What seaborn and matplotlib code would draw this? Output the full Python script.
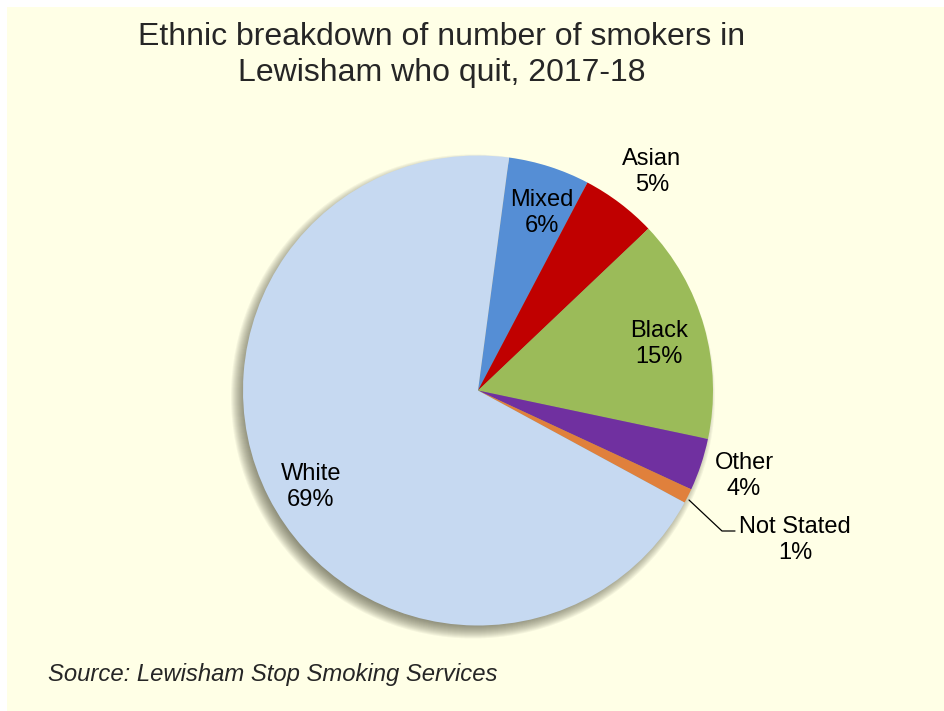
import matplotlib
matplotlib.use("Agg")
import matplotlib.pyplot as plt
import seaborn as sns
from matplotlib.patches import Rectangle, Circle

categories = ["Mixed", "Asian", "Black", "Other", "Not Stated", "White"]
shares = [5.6, 5.2, 15.4, 3.6, 1.0, 69.2]
colors = ["#558ED5", "#C00000", "#9BBB59", "#7030A0", "#E0803C", "#C6D9F1"]
title = "Ethnic breakdown of number of smokers in\nLewisham who quit, 2017-18"
source = "Source: Lewisham Stop Smoking Services"

sns.set_theme(style="white")
plt.rcParams['font.family'] = ['Liberation Sans', 'DejaVu Sans']

W, H = 944, 711
fig = plt.figure(figsize=(W / 100, H / 100), dpi=100, facecolor="white")
fig.patches.append(Rectangle((7 / W, 0), 1 - 7 / W, 1 - 7 / H, transform=fig.transFigure,
                             facecolor="#FFFFE6", edgecolor="none", zorder=-10))

cx, cy, R = 478, 390.5, 235
half = 330
ax = fig.add_axes([(cx - half) / W, (H - cy - half) / H, 2 * half / W, 2 * half / H])

# soft shadow towards lower-left
for k in range(-7, 8):
    ax.add_patch(Circle((-5.0 / R, -6.0 / R), 1 + k / R, facecolor="#4a4a38", alpha=0.06,
                        edgecolor="none", zorder=0))

wedges, _ = ax.pie(shares, colors=colors, startangle=82.4, counterclock=False, radius=1,
                   wedgeprops=dict(linewidth=0))
for w in wedges:
    w.set_zorder(2)
ax.set_xlim(-half / R, half / R)
ax.set_ylim(-half / R, half / R)
ax.axis("off")


def px(x, y):
    return (x - cx) / R, (cy - y) / R


label_px = {"Mixed": (542, 213), "Asian": (652, 172), "Black": (659, 344),
            "Other": (744, 476), "Not Stated": (795, 540), "White": (311, 487)}
for cat, val in zip(categories, shares):
    x, y = px(*label_px[cat])
    ax.text(x, y, f"{cat}\n{round(val):.0f}%", ha="center", va="center", fontsize=17,
            color="black", linespacing=1.29, zorder=5)

# leader line for Not Stated
lx = [px(689, 500), px(722, 531), px(735, 531)]
ax.plot([p[0] for p in lx], [p[1] for p in lx], color="black", lw=0.9, zorder=4)

fig.text(442 / W, 1 - 55 / H, title, ha="center", va="center", fontsize=23, linespacing=1.22)
fig.text(48 / W, 1 - 675 / H, source, ha="left", va="center", fontsize=17.2, style="italic")

fig.savefig("out.png", dpi=100, facecolor=fig.get_facecolor())
